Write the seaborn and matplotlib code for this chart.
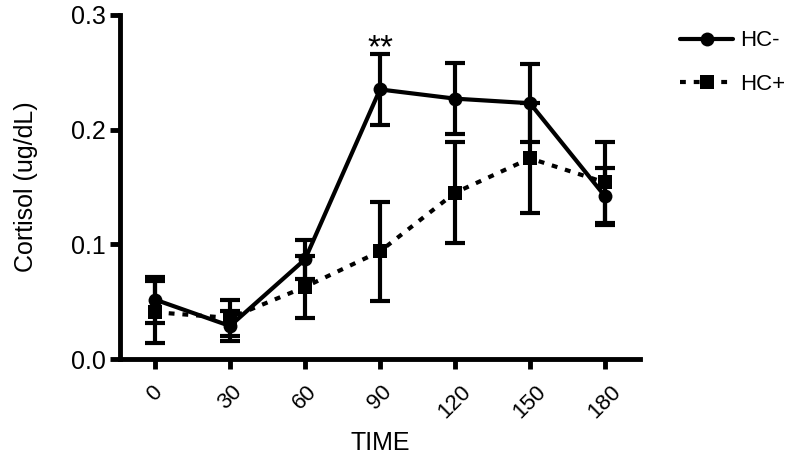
import matplotlib
matplotlib.use("Agg")
import matplotlib.pyplot as plt
import seaborn as sns
import pandas as pd

# cortisol by time, two groups (mean +/- error)
time = [0, 30, 60, 90, 120, 150, 180]
hc_minus = [0.052, 0.029, 0.087, 0.235, 0.227, 0.223, 0.142]
hc_minus_err = [0.020, 0.013, 0.017, 0.031, 0.031, 0.034, 0.025]
hc_plus = [0.041, 0.036, 0.063, 0.094, 0.145, 0.175, 0.154]
hc_plus_err = [0.027, 0.016, 0.027, 0.043, 0.044, 0.048, 0.035]
groups = ["HC-", "HC+"]

df = pd.DataFrame({
    "time": time * 2,
    "cortisol": hc_minus + hc_plus,
    "group": [groups[0]] * len(time) + [groups[1]] * len(time),
})

sns.set_style("ticks")
plt.rcParams["font.family"] = ["Liberation Sans", "DejaVu Sans"]
for key in ["text.color", "axes.labelcolor", "xtick.color", "ytick.color"]:
    plt.rcParams[key] = "black"

fig = plt.figure(figsize=(8, 4.63), dpi=100)
ax = fig.add_axes([0.15, 0.224, 0.65, 0.744])

# error bars first, lines on top
for vals, errs in [(hc_minus, hc_minus_err), (hc_plus, hc_plus_err)]:
    ax.errorbar(time, vals, yerr=errs, fmt="none", ecolor="black",
                elinewidth=3, capsize=7, capthick=3, zorder=2)

sns.lineplot(data=df, x="time", y="cortisol", hue="group", style="group",
             palette={"HC-": "black", "HC+": "black"},
             dashes={"HC-": "", "HC+": (1.4, 1.9)},
             markers={"HC-": "o", "HC+": "s"},
             markersize=10, linewidth=3, markeredgewidth=0,
             ax=ax, zorder=3)

ax.set_xlim(-14, 194)
ax.set_ylim(0, 0.3)
ax.set_xticks(time)
ax.set_xticklabels([str(t) for t in time], rotation=45, fontsize=16)
ax.set_yticks([0.0, 0.1, 0.2, 0.3])
ax.set_yticklabels(["0.0", "0.1", "0.2", "0.3"], fontsize=18)
ax.set_xlabel("TIME", fontsize=18, labelpad=6)
ax.set_ylabel("Cortisol (ug/dL)", fontsize=18, labelpad=24)

for side in ["top", "right"]:
    ax.spines[side].set_visible(False)
for side in ["left", "bottom"]:
    ax.spines[side].set_linewidth(3.5)
    ax.spines[side].set_color("black")
ax.tick_params(width=3.5, length=7, color="black", pad=3)
ax.tick_params(axis="x", pad=9)

ax.text(90, 0.27, "**", ha="center", va="center", fontsize=24)

ax.legend(handles=ax.get_legend().legend_handles, labels=groups,
          loc="upper left", bbox_to_anchor=(1.077, 0.955), frameon=False,
          borderaxespad=0, borderpad=0,
          fontsize=16, handlelength=2.4, handletextpad=0.3, labelspacing=1.0)

fig.savefig("out.png", dpi=100)
